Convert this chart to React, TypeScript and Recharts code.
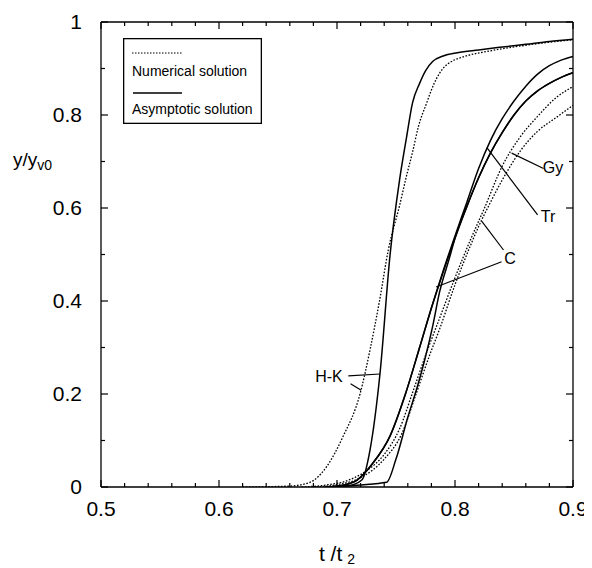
import React from 'react';
import { LineChart, Line, XAxis, YAxis, ReferenceLine, ReferenceDot, Legend } from 'recharts';

const FONT = "'Liberation Sans', Arial, Helvetica, sans-serif";

// x = t/t2, y = y/yv0
// H-K
const hkNumT = [0.62, 0.66, 0.677, 0.691, 0.705, 0.7195, 0.728, 0.736, 0.7435, 0.753, 0.759, 0.764, 0.769, 0.776, 0.782, 0.787, 0.792, 0.797, 0.807, 0.83, 0.849, 0.875, 0.9];
const hkNumY = [0, 0.002, 0.01, 0.043, 0.108, 0.2, 0.295, 0.4, 0.51, 0.605, 0.67, 0.72, 0.775, 0.826, 0.866, 0.89, 0.906, 0.915, 0.925, 0.938, 0.946, 0.955, 0.962];
const hkAsymT = [0.69, 0.71, 0.721, 0.728, 0.7364, 0.745, 0.753, 0.759, 0.764, 0.77, 0.775, 0.781, 0.79, 0.802, 0.82, 0.836, 0.86, 0.88, 0.9];
const hkAsymY = [0, 0.003, 0.015, 0.08, 0.243, 0.5, 0.66, 0.753, 0.826, 0.868, 0.895, 0.915, 0.927, 0.934, 0.94, 0.945, 0.952, 0.958, 0.963];
// Tr
const trAsymT = [0.69, 0.705, 0.717, 0.73, 0.745, 0.758, 0.77, 0.78, 0.79, 0.8, 0.81, 0.82, 0.83, 0.84, 0.85, 0.86, 0.87, 0.88, 0.89, 0.9];
const trAsymY = [0, 0.004, 0.015, 0.05, 0.11, 0.2, 0.3, 0.385, 0.465, 0.54, 0.612, 0.685, 0.745, 0.792, 0.83, 0.862, 0.888, 0.906, 0.918, 0.926];
// Gy
const gyAsymT = [0.69, 0.705, 0.717, 0.73, 0.745, 0.758, 0.77, 0.78, 0.79, 0.8, 0.81, 0.82, 0.83, 0.84, 0.85, 0.86, 0.87, 0.88, 0.89, 0.9];
const gyAsymY = [0, 0.004, 0.015, 0.05, 0.11, 0.2, 0.3, 0.385, 0.462, 0.535, 0.603, 0.665, 0.718, 0.762, 0.8, 0.83, 0.852, 0.868, 0.881, 0.891];
const gyNumT = [0.67, 0.69, 0.71, 0.725, 0.74, 0.753, 0.765, 0.776, 0.785, 0.8, 0.813, 0.825, 0.84, 0.855, 0.87, 0.886, 0.9];
const gyNumY = [0, 0.004, 0.015, 0.035, 0.07, 0.125, 0.21, 0.29, 0.35, 0.45, 0.531, 0.6, 0.69, 0.752, 0.797, 0.838, 0.861];
// C
const cAsymT = [0.7, 0.717, 0.742, 0.75, 0.76, 0.768, 0.775, 0.781, 0.787, 0.795, 0.8, 0.81, 0.82, 0.83, 0.84, 0.85, 0.86, 0.87, 0.88, 0.89, 0.9];
const cAsymY = [0, 0.004, 0.01, 0.06, 0.15, 0.215, 0.28, 0.345, 0.42, 0.49, 0.535, 0.603, 0.665, 0.718, 0.762, 0.8, 0.83, 0.852, 0.868, 0.881, 0.891];
const cNumT = [0.68, 0.7, 0.72, 0.74, 0.755, 0.767, 0.778, 0.787, 0.8, 0.81, 0.82, 0.83, 0.84, 0.856, 0.87, 0.886, 0.9];
const cNumY = [0, 0.005, 0.02, 0.06, 0.115, 0.2, 0.28, 0.34, 0.435, 0.5, 0.56, 0.612, 0.66, 0.725, 0.765, 0.795, 0.821];

const xTicks = [0.5, 0.52, 0.54, 0.56, 0.58, 0.6, 0.62, 0.64, 0.66, 0.68, 0.7, 0.72, 0.74, 0.76, 0.78, 0.8, 0.82, 0.84, 0.86, 0.88, 0.9];
const yTicks = [0, 0.1, 0.2, 0.3, 0.4, 0.5, 0.6, 0.7, 0.8, 0.9, 1];

const curveLabels = ['Gy', 'Tr', 'C', 'H-K'];
const curveLabelX = [0.883, 0.8788, 0.8466, 0.6932];
const curveLabelY = [0.688, 0.583, 0.4925, 0.2387];
// leader lines: [x1, y1, x2, y2]
const leaders = [
  [0.848, 0.718, 0.875, 0.685],
  [0.827, 0.73, 0.87, 0.585],
  [0.8226, 0.572, 0.8411, 0.5097],
  [0.784, 0.43, 0.8395, 0.4845],
  [0.7096, 0.239, 0.7364, 0.243],
  [0.7115, 0.222, 0.7205, 0.208],
];

const zip = (xs: number[], ys: number[]) => xs.map((x, i) => ({ x, y: ys[i] }));

const series = [
  { name: 'H-K num', data: zip(hkNumT, hkNumY), dotted: true },
  { name: 'Gy num', data: zip(gyNumT, gyNumY), dotted: true },
  { name: 'C num', data: zip(cNumT, cNumY), dotted: true },
  { name: 'H-K asym', data: zip(hkAsymT, hkAsymY), dotted: false },
  { name: 'Tr asym', data: zip(trAsymT, trAsymY), dotted: false },
  { name: 'Gy asym', data: zip(gyAsymT, gyAsymY), dotted: false },
  { name: 'C asym', data: zip(cAsymT, cAsymY), dotted: false },
];

const isMajor = (v: number, k: number) => Math.abs(v * k - Math.round(v * k)) < 1e-6;

const BottomTick = (props: any) => {
  const { x, y, payload } = props;
  const v = payload.value;
  const major = isMajor(v, 10);
  return (
    <g>
      <line x1={x} y1={y} x2={x} y2={y - (major ? 7 : 4)} stroke="#000" strokeWidth={1.2} />
      {major && (
        <text x={x} y={y + 29} textAnchor="middle" fontSize={21} fontFamily={FONT} fill="#000">
          {v.toFixed(1)}
        </text>
      )}
    </g>
  );
};

const TopTick = (props: any) => {
  const { x, y, payload } = props;
  const major = isMajor(payload.value, 10);
  return <line x1={x} y1={y} x2={x} y2={y + (major ? 7 : 4)} stroke="#000" strokeWidth={1.2} />;
};

const LeftTick = (props: any) => {
  const { x, y, payload } = props;
  const v = payload.value;
  const major = isMajor(v, 5);
  const label = v === 0 ? '0' : v === 1 ? '1' : v.toFixed(1);
  return (
    <g>
      <line x1={x} y1={y} x2={x + (major ? 7 : 4)} y2={y} stroke="#000" strokeWidth={1.2} />
      {major && (
        <text x={x - 19} y={y + 7} textAnchor="end" fontSize={21} fontFamily={FONT} fill="#000">
          {label}
        </text>
      )}
    </g>
  );
};

const RightTick = (props: any) => {
  const { x, y, payload } = props;
  const major = isMajor(payload.value, 5);
  return <line x1={x} y1={y} x2={x - (major ? 7 : 4)} y2={y} stroke="#000" strokeWidth={1.2} />;
};

const XTitle = (props: any) => {
  const vb = props.viewBox || { x: 0, y: 0, width: 0 };
  return (
    <text x={vb.x + vb.width / 2} y={vb.y + 74} textAnchor="middle" fontSize={21} fontFamily={FONT} fill="#000">
      <tspan>t /t</tspan>
      <tspan dx={5} dy={3} fontSize={14}>2</tspan>
    </text>
  );
};

const YTitle = (props: any) => {
  const vb = props.viewBox || { x: 0, y: 0 };
  return (
    <text x={vb.x + 5} y={vb.y + 144} fontSize={19} fontFamily={FONT} fill="#000">
      <tspan>y/y</tspan>
      <tspan dy={4} fontSize={14}>v0</tspan>
    </text>
  );
};

const LegendBox = () => (
  <svg width={139} height={86} style={{ display: 'block' }}>
    <rect x={0.65} y={0.65} width={137.7} height={84.7} fill="#fff" stroke="#000" strokeWidth={1.3} />
    <line x1={9} y1={15} x2={59} y2={15} stroke="#000" strokeWidth={1.2} strokeDasharray="1.5 1.5" />
    <text x={9} y={38} fontSize={14} fontFamily={FONT} fill="#000">Numerical solution</text>
    <line x1={10} y1={55} x2={59} y2={55} stroke="#000" strokeWidth={1.5} />
    <text x={9} y={76} fontSize={14} fontFamily={FONT} fill="#000">Asymptotic solution</text>
  </svg>
);

const axisStyle = { stroke: '#000', strokeWidth: 1.3 };

export default function App() {
  return (
    <LineChart width={584} height={560} margin={{ top: 13, right: 18, bottom: 11, left: 0 }}>
      <XAxis
        xAxisId="b"
        type="number"
        dataKey="x"
        domain={[0.5, 0.9]}
        ticks={xTicks}
        interval={0}
        allowDataOverflow
        tick={<BottomTick />}
        tickLine={false}
        tickSize={0}
        tickMargin={0}
        height={70}
        axisLine={axisStyle}
        label={<XTitle />}
      />
      <XAxis
        xAxisId="t"
        orientation="top"
        type="number"
        dataKey="x"
        domain={[0.5, 0.9]}
        ticks={xTicks}
        interval={0}
        allowDataOverflow
        tick={<TopTick />}
        tickLine={false}
        tickSize={0}
        tickMargin={0}
        height={1}
        axisLine={axisStyle}
      />
      <YAxis
        yAxisId="l"
        type="number"
        dataKey="y"
        domain={[0, 1]}
        ticks={yTicks}
        interval={0}
        allowDataOverflow
        tick={<LeftTick />}
        tickLine={false}
        tickSize={0}
        tickMargin={0}
        width={93}
        axisLine={axisStyle}
        label={<YTitle />}
      />
      <YAxis
        yAxisId="r"
        orientation="right"
        type="number"
        dataKey="y"
        domain={[0, 1]}
        ticks={yTicks}
        interval={0}
        allowDataOverflow
        tick={<RightTick />}
        tickLine={false}
        tickSize={0}
        tickMargin={0}
        width={1}
        axisLine={axisStyle}
      />
      {series.map((s) => (
        <Line
          key={s.name}
          name={s.name}
          data={s.data}
          dataKey="y"
          xAxisId="b"
          yAxisId="l"
          type="monotoneX"
          stroke="#000"
          strokeWidth={s.dotted ? 1.3 : 1.5}
          strokeDasharray={s.dotted ? '1.6 1.6' : undefined}
          dot={false}
          activeDot={false}
          isAnimationActive={false}
        />
      ))}
      {leaders.map((l, i) => (
        <ReferenceLine
          key={'ld' + i}
          xAxisId="b"
          yAxisId="l"
          segment={[{ x: l[0], y: l[1] }, { x: l[2], y: l[3] }]}
          stroke="#000"
          strokeWidth={1.2}
        />
      ))}
      {curveLabels.map((t, i) => (
        <ReferenceDot
          key={'lb' + i}
          xAxisId="b"
          yAxisId="l"
          x={curveLabelX[i]}
          y={curveLabelY[i]}
          r={1}
          fill="none"
          stroke="none"
          label={{ value: t, position: 'center', fontSize: 16, fontFamily: FONT, fill: '#000' }}
        />
      ))}
      <Legend
        layout="vertical"
        align="center"
        verticalAlign="middle"
        wrapperStyle={{ left: 115, top: 30, width: 139, height: 86 }}
        content={<LegendBox />}
      />
    </LineChart>
  );
}
